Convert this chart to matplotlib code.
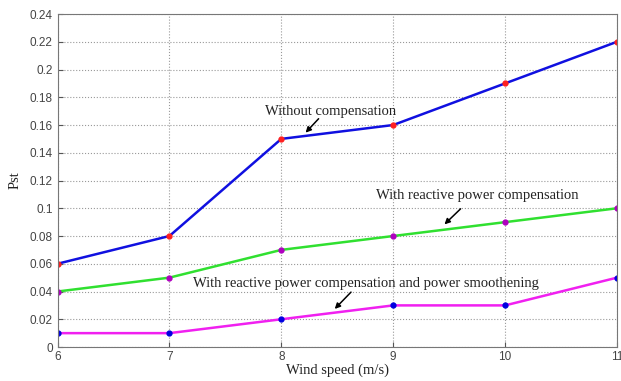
import numpy as np
import matplotlib as mpl
import matplotlib.pyplot as plt

wind_speed = [6, 7, 8, 9, 10, 11]
without_comp = [0.06, 0.08, 0.15, 0.16, 0.19, 0.22]
reactive_comp = [0.04, 0.05, 0.07, 0.08, 0.09, 0.10]
reactive_smooth = [0.01, 0.01, 0.02, 0.03, 0.03, 0.05]
y_ticks = [0, 0.02, 0.04, 0.06, 0.08, 0.1, 0.12, 0.14, 0.16, 0.18, 0.2, 0.22, 0.24]

# configuration
mpl.rcParams['font.family'] = 'Liberation Sans'
mpl.rcParams['xtick.direction'] = 'in'
mpl.rcParams['ytick.direction'] = 'in'
mpl.rcParams['xtick.labelsize'] = 8.5
mpl.rcParams['ytick.labelsize'] = 8.5
mpl.rcParams['xtick.color'] = '#555555'
mpl.rcParams['ytick.color'] = '#555555'
mpl.rcParams['xtick.labelcolor'] = '#444444'
mpl.rcParams['ytick.labelcolor'] = '#444444'

fig = plt.figure(figsize=(6.21, 3.81), dpi=100)
ax = fig.add_axes([0.0926, 0.0892, 0.901, 0.874])

ax.plot(wind_speed, without_comp, color='#1010e0', lw=1.8, marker='o', ms=3.5,
        mfc='#ff2020', mec='#ff2020')
ax.plot(wind_speed, reactive_comp, color='#30e030', lw=1.8, marker='o', ms=3.5,
        mfc='#b000c0', mec='#b000c0')
ax.plot(wind_speed, reactive_smooth, color='#f020f0', lw=1.8, marker='o', ms=3.5,
        mfc='#0000e0', mec='#0000e0')

ax.set_xlim(6, 11)
ax.set_ylim(0, 0.24)
ax.set_xticks(wind_speed)
ax.set_yticks(y_ticks)
ax.set_yticklabels(['0'] + ['%g' % v for v in y_ticks[1:]])
ax.tick_params(axis='x', pad=3)
ax.grid(True, linestyle=':', color='#999999', lw=0.8)
for s in ax.spines.values():
    s.set_color('#777777')

serif = {'family': 'Liberation Serif', 'size': 10.5, 'color': '#222222'}
ax.set_xlabel('Wind speed (m/s)', fontdict=serif, labelpad=0)
ax.set_ylabel('Pst', fontdict=serif, labelpad=6)

arrow = dict(arrowstyle='-|>', color='black', lw=1.1, mutation_scale=8)
ax.annotate('', xy=(8.20, 0.153), xytext=(8.35, 0.166), arrowprops=arrow)
ax.text(8.44, 0.170, 'Without compensation', ha='center', va='center', fontdict=serif)
ax.annotate('', xy=(9.44, 0.087), xytext=(9.62, 0.101), arrowprops=arrow)
ax.text(9.75, 0.1095, 'With reactive power compensation', ha='center', va='center', fontdict=serif)
ax.annotate('', xy=(8.46, 0.026), xytext=(8.64, 0.041), arrowprops=arrow)
ax.text(8.76, 0.046, 'With reactive power compensation and power smoothening',
        ha='center', va='center', fontdict=serif)

plt.savefig('out.png', dpi=100)
